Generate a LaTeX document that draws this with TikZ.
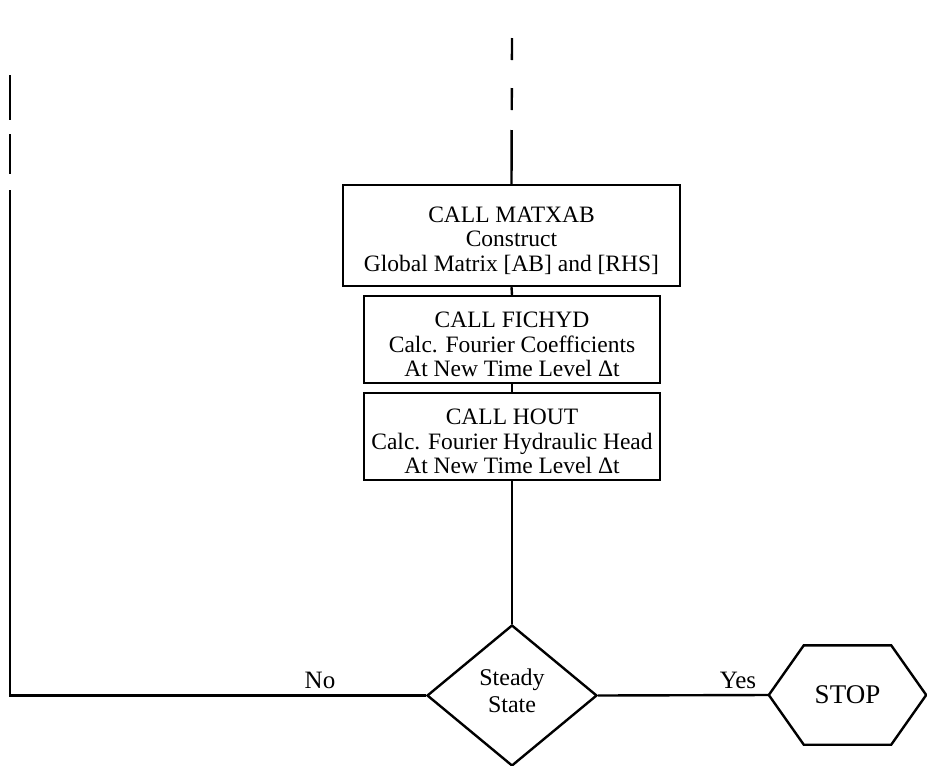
\documentclass[tikz,border=0pt]{standalone}
\usepackage{fontspec}
\setmainfont{Liberation Serif}
\usetikzlibrary{shapes.geometric}
\newcommand{\myTopStrut}{\rule{0pt}{26pt}}
\begin{document}
\begin{tikzpicture}[x=1pt,y=-1pt,
  every path/.style={line width=2.4pt},
  procbox/.style={draw, line width=2.4pt, align=center, inner sep=0pt,
    font=\fontsize{23.5}{24.5}\selectfont},
  decide/.style={draw, diamond, line width=2.4pt, inner sep=0pt,
    minimum width=170pt, minimum height=141pt},
  dtext/.style={align=center, inner sep=0pt, font=\fontsize{24}{27}\selectfont},
  lbl/.style={font=\fontsize{25}{26}\selectfont, inner sep=0pt, anchor=base}]
\useasboundingbox (0,0) rectangle (927,766);
\node[procbox, minimum width=337pt, minimum height=101pt] (b1) at (511.5,235.5)
  {\myTopStrut CALL MATXAB\\Construct\\Global Matrix [AB] and [RHS]};
\node[procbox, minimum width=296pt, minimum height=87pt] (b2) at (512,339.5)
  {\myTopStrut CALL FICHYD\\Calc. Fourier Coefficients\\At New Time Level Δt};
\node[procbox, minimum width=296pt, minimum height=87pt] (b3) at (512,436.5)
  {\myTopStrut CALL HOUT\\Calc. Fourier Hydraulic Head\\At New Time Level Δt};
\node[decide] (d) at (512,695.5) {};
\node[dtext] (dlabel) at ([yshift=5pt]d.center) {Steady\\State};
\node[minimum width=155pt, minimum height=97pt, inner sep=0pt,
  font=\fontsize{27}{29}\selectfont] (stop) at (847.5,695) {STOP};
\draw (stop.west) -- ([xshift=35pt]stop.north west) -- ([xshift=-35pt]stop.north east)
  -- (stop.east) -- ([xshift=-35pt]stop.south east) -- ([xshift=35pt]stop.south west) -- cycle;
\coordinate (top) at (512,38);
\coordinate (lefttop) at (10,75);
\coordinate (leftbot) at (10,695.5);
\draw[dash pattern=on 22pt off 28pt on 22pt off 20pt on 200pt] (top) -- (b1.north);
\draw (b1.south) -- (b2.north);
\draw (b2.south) -- (b3.north);
\draw (b3.south) -- (d.north);
\draw (d.east) -- (stop.west);
\draw[dash pattern=on 45pt off 14pt on 40pt off 16pt on 2000pt] (lefttop) -- (leftbot) -- (d.west);
\node[lbl] (no) at (320,688) {No};
\node[lbl] (yes) at (738,688) {Yes};
\end{tikzpicture}
\end{document}
